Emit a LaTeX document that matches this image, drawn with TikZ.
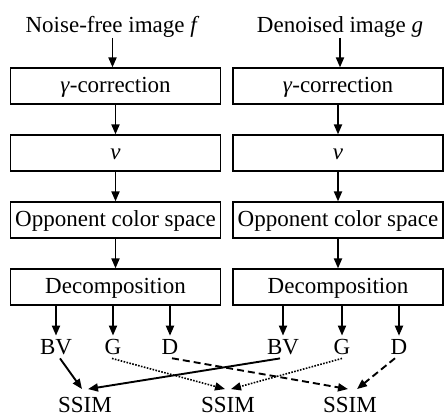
\documentclass[tikz,border=0pt]{standalone}
\usepackage{fontspec}
\setmainfont{Liberation Serif}
\usetikzlibrary{arrows.meta}
\begin{document}
\begin{tikzpicture}[x=1pt,y=-1pt,
  txt/.style={font=\fontsize{23}{27}\selectfont},
  box/.style={txt, draw, line width=1.2pt, minimum width=210pt, minimum height=36pt,
    inner sep=0pt, text height=16pt, text depth=3pt},
  lbl/.style={txt, inner xsep=1pt, inner ysep=3.5pt},
  ssim/.style={txt, inner xsep=1pt, inner ysep=1pt},
  arr/.style={-{Triangle[length=10pt,width=8pt]}, line width=1.9pt},
  dotline/.style={line width=1.6pt, dash pattern=on 1.6pt off 1.4pt},
  dashline/.style={dash pattern=on 7pt off 4pt}]
\useasboundingbox (0,0) rectangle (444,419);
% titles
\node[txt, anchor=base] (t1) at (112.5,33) {Noise-free image \textit{f}};
\node[txt, anchor=base] (t2) at (340,33) {Denoised image \textit{g}};
% left column
\node[box] (a1) at (115.5,86) {\textit{γ}-correction};
\node[box] (a2) at (115.5,153) {\textit{ν}};
\node[box] (a3) at (115.5,220) {Opponent color space};
\node[box] (a4) at (115.5,287) {Decomposition};
% right column
\node[box] (b1) at (338,86) {\textit{γ}-correction};
\node[box] (b2) at (338,153) {\textit{ν}};
\node[box] (b3) at (338,220) {Opponent color space};
\node[box] (b4) at (338,287) {Decomposition};
% labels
\node[lbl] (bv1) at (56,347) {BV};
\node[lbl] (g1) at (113,347) {G};
\node[lbl] (d1) at (170,347) {D};
\node[lbl] (bv2) at (283,347) {BV};
\node[lbl] (g2) at (342,347) {G};
\node[lbl] (d2) at (399,347) {D};
\node[ssim] (s1) at (85,405) {SSIM};
\node[ssim] (s2) at (228,405) {SSIM};
\node[ssim] (s3) at (350,405) {SSIM};
% vertical arrows
\draw[arr] ([yshift=-5pt]t1.base) -- (a1.north -| t1.base);
\draw[arr] ([yshift=-5pt]t2.base) -- (b1.north -| t2.base);
\draw[arr] (a1) -- (a2);
\draw[arr] (a2) -- (a3);
\draw[arr] (a3) -- (a4);
\draw[arr] (b1) -- (b2);
\draw[arr] (b2) -- (b3);
\draw[arr] (b3) -- (b4);
\draw[arr] (a4.south -| bv1) -- (bv1);
\draw[arr] (a4.south -| g1) -- (g1);
\draw[arr] (a4.south -| d1) -- (d1);
\draw[arr] (b4.south -| bv2) -- (bv2);
\draw[arr] (b4.south -| g2) -- (g2);
\draw[arr] (b4.south -| d2) -- (d2);
% to SSIM
\draw[arr] ([xshift=4pt]bv1.south) -- ([xshift=-3pt,yshift=7pt]s1.north);
\draw[arr] ([xshift=-3pt]bv2.south) -- ([xshift=3pt,yshift=7pt]s1.north);
\draw[arr, dotline] ([xshift=-1pt]g1.south) -- ([xshift=-3pt,yshift=7pt]s2.north);
\draw[arr, dotline] (g2.south) -- ([xshift=3pt,yshift=7pt]s2.north);
\draw[arr, dashline] ([xshift=2pt]d1.south) -- ([xshift=-2pt,yshift=7pt]s3.north);
\draw[arr, dashline] ([xshift=-4pt]d2.south) -- ([xshift=7pt,yshift=7pt]s3.north);
\end{tikzpicture}
\end{document}
